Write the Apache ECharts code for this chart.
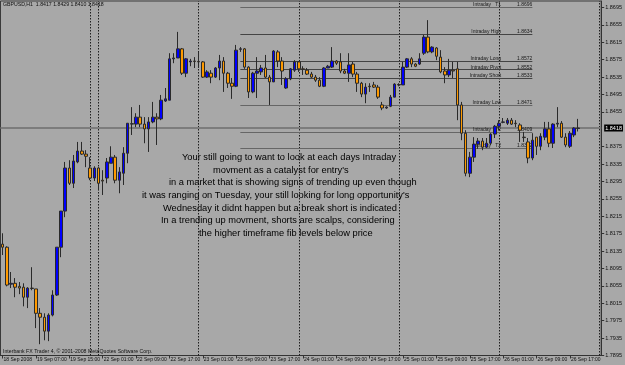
<!DOCTYPE html>
<html><head><meta charset="utf-8">
<script src="https://cdn.jsdelivr.net/npm/echarts@6/dist/echarts.min.js"></script>
<style>html,body{margin:0;padding:0;background:#a8a8a8}#c{width:625px;height:365px}</style>
</head><body><div id="c"></div>
<script>
const xLabels = ["18 Sep 2008","19 Sep 07:00","19 Sep 15:00","22 Sep 01:00","22 Sep 09:00","22 Sep 17:00","23 Sep 01:00","23 Sep 09:00","23 Sep 17:00","24 Sep 01:00","24 Sep 09:00","24 Sep 17:00","25 Sep 01:00","25 Sep 09:00","25 Sep 17:00","26 Sep 01:00","26 Sep 09:00","26 Sep 17:00"];
const barCount = 144;
// [open, close, low, high]
const candles = [
[1.8151,1.8144,1.8126,1.8176],[1.8144,1.8057,1.8054,1.8146],[1.8059,1.8061,1.8050,1.8087],[1.8061,1.8052,1.8029,1.8073],
[1.8054,1.8050,1.8036,1.8064],[1.8052,1.8029,1.8008,1.8061],[1.8029,1.8050,1.8004,1.8052],[1.8050,1.8049,1.8045,1.8098],
[1.8048,1.7992,1.7958,1.8048],[1.7992,1.7983,1.7921,1.8004],[1.7983,1.7951,1.7930,1.7992],[1.7951,1.7988,1.7928,1.7992],
[1.7988,1.8034,1.7985,1.8045],[1.8034,1.8144,1.8032,1.8144],[1.8144,1.8227,1.8121,1.8227],[1.8227,1.8326,1.8213,1.8340],
[1.8326,1.8291,1.8287,1.8344],[1.8291,1.8342,1.8280,1.8356],[1.8340,1.8365,1.8337,1.8386],[1.8365,1.8358,1.8356,1.8386],
[1.8358,1.8353,1.8328,1.8367],[1.8326,1.8303,1.8298,1.8351],[1.8303,1.8326,1.8296,1.8330],[1.8326,1.8291,1.8275,1.8328],
[1.8298,1.8296,1.8264,1.8321],[1.8303,1.8340,1.8291,1.8349],[1.8337,1.8351,1.8337,1.8376],[1.8351,1.8298,1.8291,1.8356],
[1.8298,1.8317,1.8268,1.8328],[1.8314,1.8360,1.8287,1.8374],[1.8360,1.8429,1.8337,1.8429],[1.8427,1.8428,1.8402,1.8466],
[1.8427,1.8443,1.8420,1.8452],[1.8443,1.8427,1.8420,1.8471],[1.8427,1.8416,1.8383,1.8443],[1.8416,1.8432,1.8363,1.8443],
[1.8432,1.8443,1.8429,1.8478],[1.8443,1.8439,1.8379,1.8452],[1.8439,1.8482,1.8436,1.8494],[1.8480,1.8485,1.8478,1.8510],
[1.8482,1.8577,1.8482,1.8590],[1.8577,1.8579,1.8567,1.8590],[1.8579,1.8600,1.8579,1.8639],[1.8600,1.8544,1.8540,1.8602],
[1.8544,1.8577,1.8535,1.8579],[1.8570,1.8572,1.8560,1.8577],[1.8572,1.8571,1.8556,1.8581],[1.8571,1.8570,1.8556,1.8593],
[1.8570,1.8535,1.8533,1.8572],[1.8535,1.8547,1.8533,1.8551],[1.8544,1.8535,1.8521,1.8551],[1.8535,1.8556,1.8533,1.8558],
[1.8556,1.8572,1.8528,1.8586],[1.8572,1.8544,1.8501,1.8581],[1.8544,1.8521,1.8510,1.8547],[1.8521,1.8514,1.8485,1.8533],
[1.8514,1.8597,1.8512,1.8609],[1.8599,1.8600,1.8593,1.8604],[1.8600,1.8558,1.8554,1.8602],[1.8558,1.8501,1.8487,1.8560],
[1.8501,1.8544,1.8498,1.8547],[1.8544,1.8549,1.8487,1.8581],[1.8547,1.8556,1.8540,1.8563],[1.8556,1.8535,1.8533,1.8586],
[1.8535,1.8524,1.8471,1.8540],[1.8524,1.8595,1.8524,1.8597],[1.8593,1.8572,1.8558,1.8597],[1.8572,1.8549,1.8517,1.8581],
[1.8510,1.8531,1.8508,1.8535],[1.8531,1.8554,1.8528,1.8556],[1.8551,1.8570,1.8547,1.8574],[1.8570,1.8554,1.8547,1.8572],
[1.8554,1.8553,1.8540,1.8560],[1.8551,1.8542,1.8540,1.8556],[1.8542,1.8535,1.8533,1.8547],[1.8535,1.8528,1.8524,1.8540],
[1.8528,1.8514,1.8512,1.8535],[1.8514,1.8556,1.8512,1.8558],[1.8556,1.8560,1.8556,1.8563],[1.8558,1.8572,1.8556,1.8604],
[1.8572,1.8567,1.8563,1.8574],[1.8570,1.8549,1.8544,1.8590],[1.8549,1.8544,1.8542,1.8554],[1.8544,1.8563,1.8524,1.8590],
[1.8565,1.8542,1.8535,1.8570],[1.8542,1.8521,1.8501,1.8547],[1.8521,1.8496,1.8489,1.8524],[1.8496,1.8512,1.8475,1.8521],
[1.8514,1.8513,1.8501,1.8521],[1.8517,1.8512,1.8510,1.8524],[1.8512,1.8489,1.8485,1.8517],[1.8471,1.8464,1.8459,1.8478],
[1.8464,1.8466,1.8462,1.8468],[1.8468,1.8489,1.8466,1.8494],[1.8489,1.8519,1.8489,1.8521],[1.8517,1.8518,1.8514,1.8521],
[1.8517,1.8558,1.8517,1.8570],[1.8558,1.8577,1.8556,1.8579],[1.8577,1.8565,1.8558,1.8581],[1.8565,1.8560,1.8558,1.8567],
[1.8565,1.8577,1.8563,1.8590],[1.8590,1.8627,1.8586,1.8632],[1.8627,1.8593,1.8590,1.8666],[1.8593,1.8604,1.8590,1.8606],
[1.8602,1.8583,1.8574,1.8604],[1.8581,1.8547,1.8544,1.8597],[1.8549,1.8540,1.8521,1.8558],[1.8540,1.8551,1.8535,1.8577],
[1.8551,1.8549,1.8533,1.8570],[1.8554,1.8471,1.8436,1.8570],[1.8471,1.8406,1.8390,1.8478],[1.8406,1.8314,1.8307,1.8413],
[1.8314,1.8351,1.8305,1.8363],[1.8351,1.8381,1.8340,1.8397],[1.8381,1.8388,1.8370,1.8395],[1.8388,1.8374,1.8367,1.8395],
[1.8374,1.8383,1.8372,1.8395],[1.8383,1.8404,1.8379,1.8406],[1.8404,1.8422,1.8395,1.8425],[1.8422,1.8429,1.8413,1.8436],
[1.8431,1.8432,1.8429,1.8441],[1.8429,1.8436,1.8425,1.8441],[1.8436,1.8427,1.8425,1.8441],[1.8429,1.8428,1.8420,1.8436],
[1.8425,1.8413,1.8386,1.8429],[1.8397,1.8396,1.8386,1.8409],[1.8386,1.8349,1.8337,1.8395],[1.8349,1.8390,1.8344,1.8406],
[1.8397,1.8376,1.8356,1.8397],[1.8376,1.8399,1.8367,1.8406],[1.8397,1.8416,1.8390,1.8432],[1.8416,1.8383,1.8374,1.8432],
[1.8383,1.8427,1.8372,1.8429],[1.8427,1.8429,1.8420,1.8466],[1.8429,1.8397,1.8395,1.8434],[1.8397,1.8379,1.8374,1.8406],
[1.8376,1.8406,1.8372,1.8411],[1.8402,1.8418,1.8397,1.8420],[1.8417,1.8418,1.8410,1.8439]
];
const yTicks = [1.7895,1.7935,1.7975,1.8015,1.8055,1.8095,1.8135,1.8175,1.8215,1.8255,1.8295,1.8335,1.8375,1.8455,1.8495,1.8535,1.8575,1.8615,1.8655,1.8695];
const daySeparators = [21,23,47,71,95,119,143];
const bidPrice = 1.8418;
const levelNames = ["Intraday   T1","Intraday High","Intraday Long","Intraday Pivot","Intraday Short","Intraday Low","Intraday   T2","Intraday   T2"];
const levelValues = [1.8696,1.8634,1.8572,1.8552,1.8533,1.8471,1.8409,1.8372];
const levelStart = 56.8, levelEnd = 126.5;
const header = "GBPUSD,H1  1.8417 1.8429 1.8410 1.8418";
const copyright = "Interbank FX Trader 4, \u00a9 2001-2008 MetaQuotes Software Corp.";
const noteLines = [
"Your still going to want to look at each days Intraday",
"movment as a catalyst for entry's",
"in a market that is showing signs of trending up even though",
"it was ranging on Tuesday, your still looking for long opportunity's",
"Wednesday it didnt happen but a break short is indicated",
"In a trending up movment, shorts are scalps, considering",
"the higher timeframe fib levels below price"
];
const noteX = [182,213,169,142,163,161,199];
const noteY = [157,170,182,195.5,208,220,233];

const sans = '"Liberation Sans", Arial, sans-serif';
const cats = [];
for (let i = 0; i < barCount; i++) cats.push(i % 8 === 0 && xLabels[i / 8] ? xLabels[i / 8] : 'b' + i);
const showIdx = (i) => i % 8 === 0 && i / 8 < xLabels.length;

const levelLines = levelValues.map((v, k) => [
  { coord: [levelStart, v],
    lineStyle: { color: k === 0 || k >= 5 ? '#666666' : '#444444', width: 1, type: 'solid' },
    label: { show: true, position: 'insideEndTop', distance: [0, 0],
      formatter: '{n|' + levelNames[k] + '}{v|' + v.toFixed(4) + '}',
      rich: { n: { fontSize: 5, fontFamily: sans, color: '#1a1a1a', padding: [0, 16, 0, 0] },
              v: { fontSize: 5, fontFamily: sans, color: '#1a1a1a' } } } },
  { coord: [levelEnd, v] }
]);
const bidLine = { yAxis: bidPrice, lineStyle: { color: '#7c7c7c', width: 2, type: 'solid' },
  label: { show: true, position: 'end', distance: 3, formatter: bidPrice.toFixed(4), backgroundColor: '#000',
    color: '#fff', fontSize: 5.5, fontFamily: sans, padding: [1, 1, 0, 1] } };

const chart = echarts.init(document.getElementById('c'), null, { renderer: 'canvas' });
chart.setOption({
  backgroundColor: '#a8a8a8',
  animation: false,
  grid: { left: 0.5, right: 23, top: 1, bottom: 9.5, show: true, borderColor: '#3a3a3a', borderWidth: 1, backgroundColor: 'transparent' },
  xAxis: {
    type: 'category', data: cats, boundaryGap: true,
    axisLine: { show: true, lineStyle: { color: '#333' } },
    axisTick: { show: true, interval: (i) => showIdx(i), alignWithLabel: true, length: 3, lineStyle: { color: '#333' } },
    axisLabel: { interval: (i) => showIdx(i), formatter: (v, i) => (showIdx(i) ? xLabels[i / 8] : ''),
      align: 'left', margin: 2, fontSize: 5, fontFamily: sans, color: '#111', padding: [0, 0, 0, 1],
      showMinLabel: true, showMaxLabel: true, hideOverlap: false },
    splitLine: { show: false }
  },
  yAxis: {
    type: 'value', position: 'right', min: 1.7895, max: 1.8710,
    axisLine: { show: true, lineStyle: { color: '#333' } },
    axisTick: { show: true, customValues: yTicks, length: 3, lineStyle: { color: '#333' } },
    axisLabel: { customValues: yTicks, formatter: (v) => Number(v).toFixed(4), fontSize: 5.5, fontFamily: sans,
      color: '#111', margin: 4, padding: [0, 0, 4, 0] },
    splitLine: { show: false }
  },
  series: [
    {
      type: 'line', data: [], z: 1, silent: true,
      markLine: {
        silent: true, symbol: 'none', animation: false, z: 1,
        data: daySeparators.map((d) => ({ xAxis: d, lineStyle: { color: '#1e1e1e', width: 1, type: [1.5, 1.5] }, label: { show: false } }))
      }
    },
    {
      type: 'candlestick', data: candles, barWidth: 3, z: 3,
      itemStyle: { color: '#0000ff', color0: '#ff9a00', borderColor: '#2a2a2a', borderColor0: '#2a2a2a', borderColorDoji: '#2a2a2a', borderWidth: 1 },
      markLine: { silent: true, symbol: 'none', animation: false, z: 2, precision: 4, data: levelLines.concat([bidLine]) }
    }
  ],
  graphic: noteLines.map((t, i) => ({
    type: 'text', x: noteX[i], y: noteY[i], z: 50,
    style: { text: t, fill: '#000', font: '9.3px ' + sans, verticalAlign: 'middle', align: 'left' }
  })).concat([
    { type: 'text', x: 3, y: 5, z: 50, style: { text: header, fill: '#111', font: '5.2px ' + sans, verticalAlign: 'middle' } },
    { type: 'text', x: 3, y: 352, z: 50, style: { text: copyright, fill: '#111', font: '5.2px ' + sans, verticalAlign: 'middle' } }
  ])
});
</script>
</body></html>
